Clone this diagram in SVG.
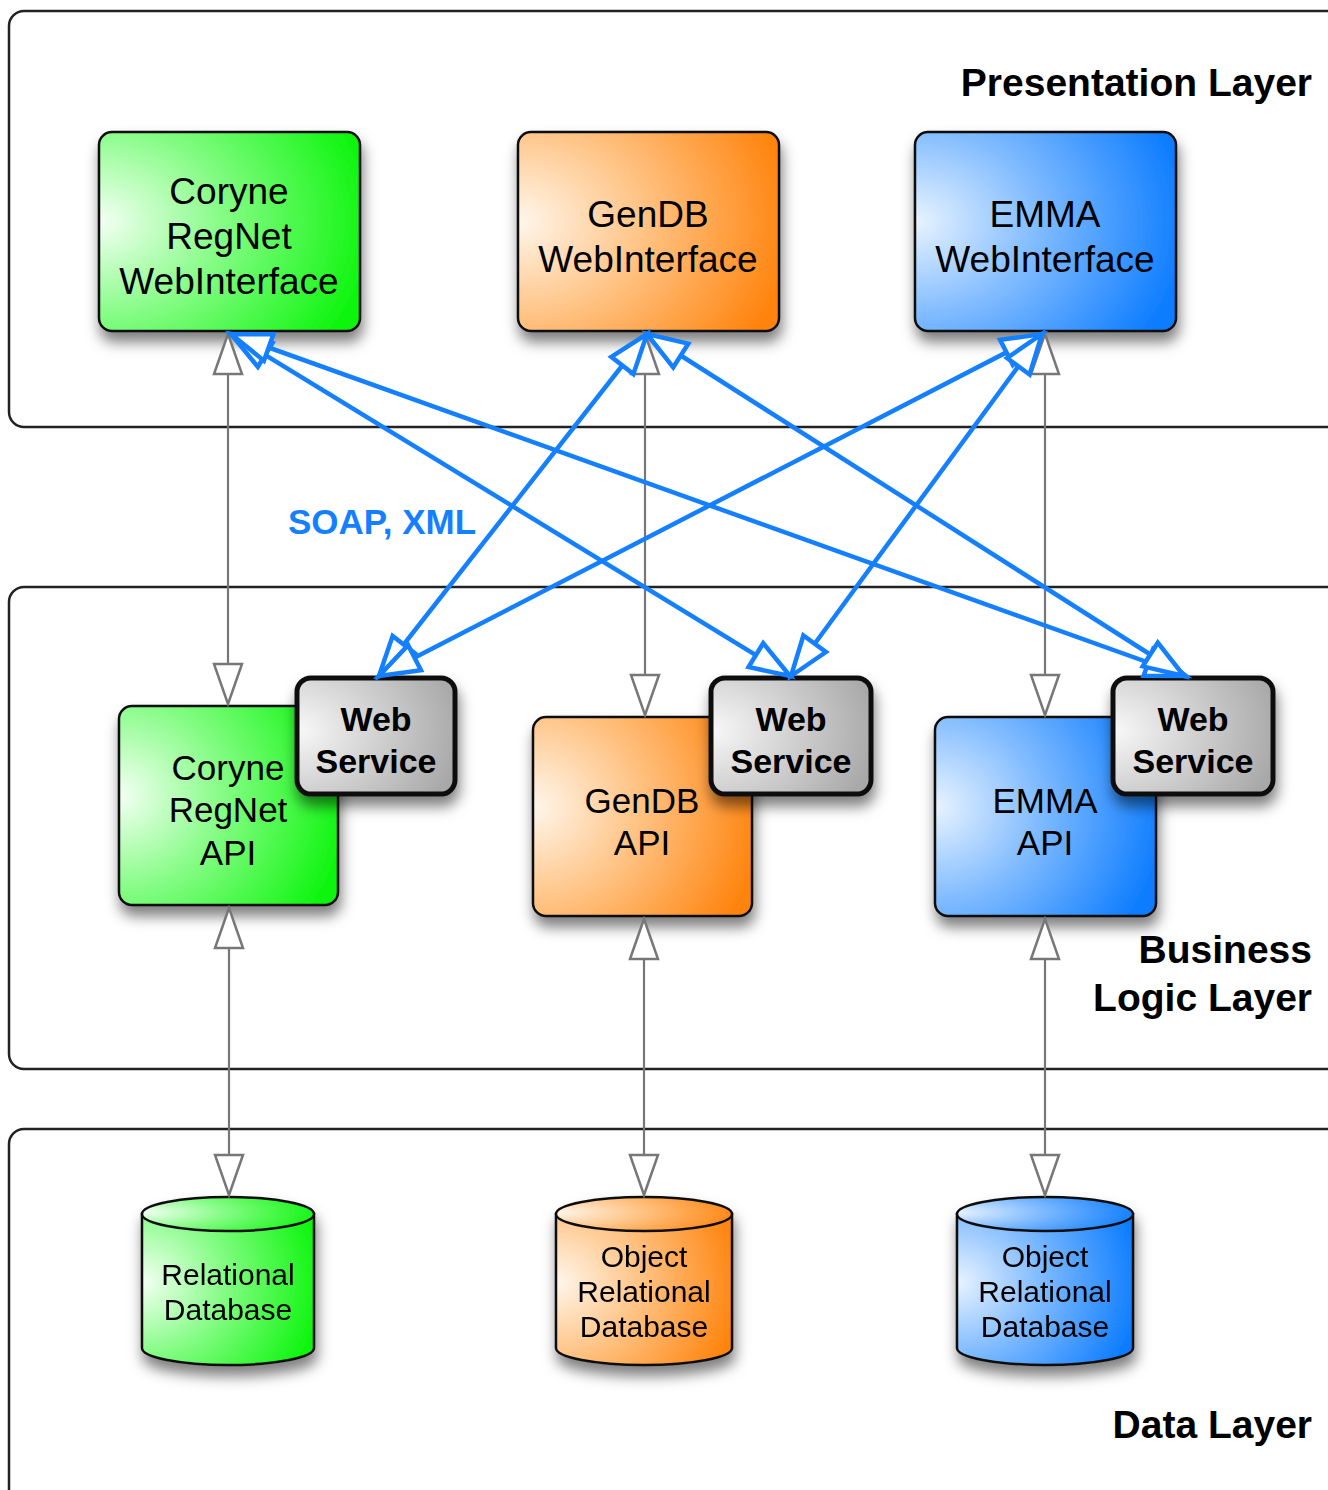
<svg xmlns="http://www.w3.org/2000/svg" width="1328" height="1490" viewBox="0 0 1328 1490">
<defs>
<style>
.layer{fill:none;stroke:#222;stroke-width:2.5}
.box{stroke:#111;stroke-width:2.5}
.ws{stroke:#111;stroke-width:5;fill:url(#gGray)}
.lt{font-family:"Liberation Sans",Arial,sans-serif;font-weight:bold;font-size:39px;fill:#000;text-anchor:end}
.nt{font-family:"Liberation Sans",Arial,sans-serif;font-size:37px;fill:#000;text-anchor:middle}
.at{font-family:"Liberation Sans",Arial,sans-serif;font-size:35px;fill:#000;text-anchor:middle}
.wt{font-family:"Liberation Sans",Arial,sans-serif;font-weight:bold;font-size:34px;fill:#000;text-anchor:middle}
.dt{font-family:"Liberation Sans",Arial,sans-serif;font-size:30px;fill:#000;text-anchor:middle}
.soap{font-family:"Liberation Sans",Arial,sans-serif;font-weight:bold;font-size:35px;fill:#1580ff}
.gray{stroke:#777;stroke-width:2.2;fill:none;marker-start:url(#mg);marker-end:url(#mg)}
.blue{stroke:#1580ff;stroke-width:4.5;fill:none;marker-start:url(#mb);marker-end:url(#mb)}
</style>
<radialGradient id="gGreen" cx="0" cy="0.45" r="1.05" fx="0" fy="0.45"><stop offset="0" stop-color="#f4fff4"/><stop offset="0.45" stop-color="#86fc86"/><stop offset="1" stop-color="#0ef50e"/></radialGradient>
<radialGradient id="gOrange" cx="0" cy="0.45" r="1.05" fx="0" fy="0.45"><stop offset="0" stop-color="#fff6ec"/><stop offset="0.45" stop-color="#ffc486"/><stop offset="1" stop-color="#ff840e"/></radialGradient>
<radialGradient id="gBlue" cx="0" cy="0.45" r="1.05" fx="0" fy="0.45"><stop offset="0" stop-color="#e8f3ff"/><stop offset="0.45" stop-color="#80bbff"/><stop offset="1" stop-color="#0c7cff"/></radialGradient>
<radialGradient id="gGray" cx="0" cy="0.45" r="1.05" fx="0" fy="0.45"><stop offset="0" stop-color="#f8f8f8"/><stop offset="1" stop-color="#a8a8a8"/></radialGradient>
<filter id="sh" x="-20%" y="-20%" width="140%" height="150%"><feDropShadow dx="2" dy="10" stdDeviation="7" flood-color="#000" flood-opacity="0.5"/></filter>
<marker id="mg" markerUnits="userSpaceOnUse" markerWidth="60" markerHeight="40" viewBox="-50 -20 60 40" refX="0" refY="0" orient="auto-start-reverse" overflow="visible"><path d="M0,0 L-40,-14 L-40,14 Z" fill="#fff" stroke="#777" stroke-width="2.5" stroke-linejoin="miter"/></marker>
<marker id="mb" markerUnits="userSpaceOnUse" markerWidth="60" markerHeight="40" viewBox="-50 -20 60 40" refX="0" refY="0" orient="auto-start-reverse" overflow="visible"><path d="M0,0 L-40,-14 L-40,14 Z" fill="#fff" stroke="#1580ff" stroke-width="4.5" stroke-linejoin="miter"/></marker>
</defs>
<rect width="1328" height="1490" fill="#fff"/>

<g id="presentation-layer"><rect class="layer" x="9" y="11" width="1360" height="416" rx="15"/><text class="lt" x="1312" y="96">Presentation Layer</text></g>
<g id="business-layer"><rect class="layer" x="9" y="587" width="1360" height="482" rx="15"/><text class="lt" x="1312" y="963">Business</text><text class="lt" x="1312" y="1011">Logic Layer</text></g>
<g id="data-layer"><rect class="layer" x="9" y="1129" width="1360" height="420" rx="15"/><text class="lt" x="1312" y="1438">Data Layer</text></g>

<g id="coryne-web"><rect class="box" x="99" y="132" width="261" height="199" rx="13" fill="url(#gGreen)" filter="url(#sh)"/><text class="nt" x="229" y="204">Coryne</text><text class="nt" x="229" y="249">RegNet</text><text class="nt" x="229" y="294">WebInterface</text></g>
<g id="gendb-web"><rect class="box" x="518" y="132" width="261" height="199" rx="13" fill="url(#gOrange)" filter="url(#sh)"/><text class="nt" x="648" y="227">GenDB</text><text class="nt" x="648" y="272">WebInterface</text></g>
<g id="emma-web"><rect class="box" x="915" y="132" width="261" height="199" rx="13" fill="url(#gBlue)" filter="url(#sh)"/><text class="nt" x="1045" y="227">EMMA</text><text class="nt" x="1045" y="272">WebInterface</text></g>

<g id="coryne-api"><rect class="box" x="119" y="706" width="219" height="199" rx="13" fill="url(#gGreen)" filter="url(#sh)"/><text class="at" x="228" y="780">Coryne</text><text class="at" x="228" y="822">RegNet</text><text class="at" x="228" y="865">API</text></g>
<g id="coryne-ws"><rect class="ws" x="297" y="678" width="158" height="116" rx="14" filter="url(#sh)"/><text class="wt" x="376" y="731">Web</text><text class="wt" x="376" y="773">Service</text></g>
<g id="gendb-api"><rect class="box" x="533" y="717" width="219" height="199" rx="13" fill="url(#gOrange)" filter="url(#sh)"/><text class="at" x="642" y="813">GenDB</text><text class="at" x="642" y="855">API</text></g>
<g id="gendb-ws"><rect class="ws" x="711" y="678" width="160" height="116" rx="14" filter="url(#sh)"/><text class="wt" x="791" y="731">Web</text><text class="wt" x="791" y="773">Service</text></g>
<g id="emma-api"><rect class="box" x="935" y="717" width="221" height="199" rx="13" fill="url(#gBlue)" filter="url(#sh)"/><text class="at" x="1045" y="813">EMMA</text><text class="at" x="1045" y="855">API</text></g>
<g id="emma-ws"><rect class="ws" x="1113" y="678" width="160" height="116" rx="14" filter="url(#sh)"/><text class="wt" x="1193" y="731">Web</text><text class="wt" x="1193" y="773">Service</text></g>

<g id="coryne-db" filter="url(#sh)"><path class="box" d="M142,1214 L142,1348 A86,17 0 0 0 314,1348 L314,1214 Z" fill="url(#gGreen)"/><ellipse class="box" cx="228" cy="1214" rx="86" ry="17" fill="url(#gGreen)"/><text class="dt" x="228" y="1285">Relational</text><text class="dt" x="228" y="1320">Database</text></g>
<g id="gendb-db" filter="url(#sh)"><path class="box" d="M556,1214 L556,1348 A88,17 0 0 0 732,1348 L732,1214 Z" fill="url(#gOrange)"/><ellipse class="box" cx="644" cy="1214" rx="88" ry="17" fill="url(#gOrange)"/><text class="dt" x="644" y="1267">Object</text><text class="dt" x="644" y="1302">Relational</text><text class="dt" x="644" y="1337">Database</text></g>
<g id="emma-db" filter="url(#sh)"><path class="box" d="M957,1214 L957,1348 A88,17 0 0 0 1133,1348 L1133,1214 Z" fill="url(#gBlue)"/><ellipse class="box" cx="1045" cy="1214" rx="88" ry="17" fill="url(#gBlue)"/><text class="dt" x="1045" y="1267">Object</text><text class="dt" x="1045" y="1302">Relational</text><text class="dt" x="1045" y="1337">Database</text></g>

<g id="connectors">
<line class="gray" x1="228" y1="334" x2="228" y2="704"/>
<line class="gray" x1="645" y1="334" x2="645" y2="715"/>
<line class="gray" x1="1045" y1="334" x2="1045" y2="715"/>
<line class="gray" x1="229" y1="908" x2="229" y2="1195"/>
<line class="gray" x1="644" y1="919" x2="644" y2="1195"/>
<line class="gray" x1="1045" y1="919" x2="1045" y2="1195"/>
<line class="blue" x1="231" y1="334" x2="790" y2="676"/>
<line class="blue" x1="231" y1="334" x2="1186" y2="676"/>
<line class="blue" x1="647" y1="334" x2="379" y2="676"/>
<line class="blue" x1="647" y1="334" x2="1184" y2="676"/>
<line class="blue" x1="1042" y1="334" x2="379" y2="676"/>
<line class="blue" x1="1042" y1="334" x2="791" y2="676"/>
<text class="soap" x="288" y="534">SOAP, XML</text>
</g>
</svg>
